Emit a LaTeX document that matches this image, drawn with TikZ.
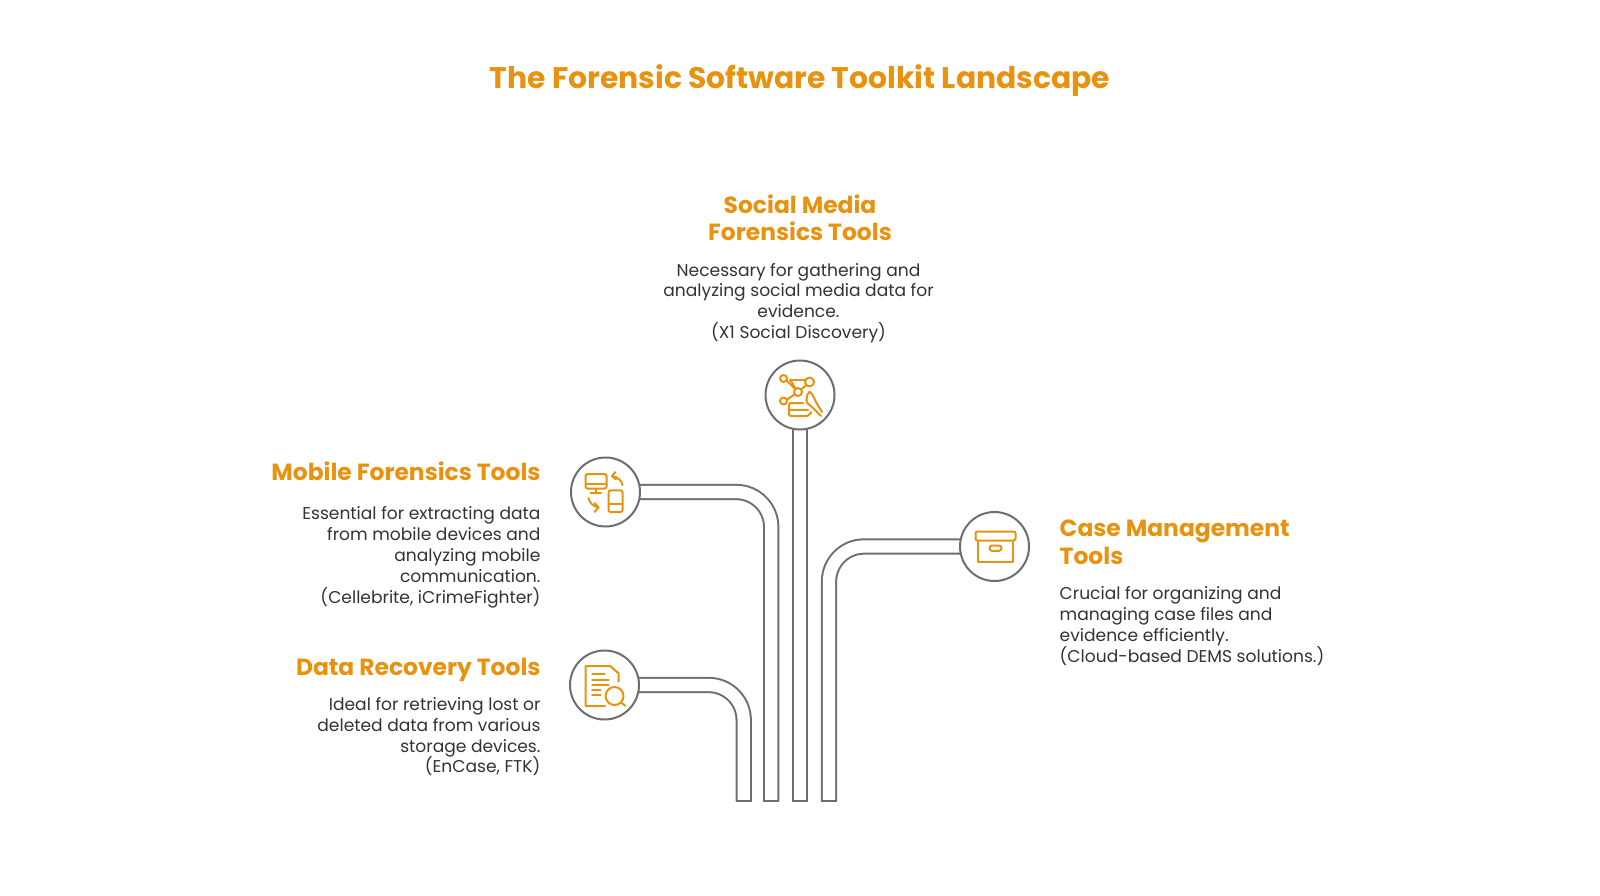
\documentclass[tikz,border=0pt]{standalone}
\usepackage{fontspec}
\setmainfont{Poppins}
\usetikzlibrary{backgrounds,positioning}
\definecolor{toolorange}{HTML}{E8920F}
\definecolor{tubegray}{HTML}{6E6E6E}
\definecolor{bodygray}{HTML}{333333}

\begin{document}
\begin{tikzpicture}[x=1pt,y=-1pt,node distance=100pt]
\tikzstyle{tool}=[circle,draw=tubegray,line width=2pt,fill=white,inner sep=0pt,minimum size=69pt]
\tikzstyle{tube}=[draw=tubegray,line width=2pt,double=white,double distance=12.3pt,rounded corners=35pt]
\tikzstyle{foot}=[draw=tubegray,line width=2pt,line cap=rect]
\tikzstyle{icon}=[draw=toolorange,line width=2pt,line cap=round,line join=round]
\tikzstyle{heading}=[inner sep=0pt,text=toolorange,font=\fontsize{23.4}{27.4}\selectfont\bfseries]
\tikzstyle{body}=[inner sep=0pt,text=bodygray,font=\fontsize{17.1}{20.8}\selectfont]

  \useasboundingbox (0,0) rectangle (1600,896);

  \node[inner sep=0pt,text=toolorange,font=\fontsize{29.8}{34}\selectfont\bfseries] (title) at (800,81) {The Forensic Software Toolkit Landscape};

  % circles
  \node[tool] (social) at (800,395)   {};
  \node[tool] (mobile) at (605.5,492) {};
  \node[tool] (data)   at (604.5,685) {};
  \node[tool] (case)   at (994.5,546.5) {};

  % texts
  \node[heading,align=center,above of=social,node distance=177pt] (socialhead) {Social Media\\Forensics Tools};
  \node[body,align=center,above of=social,node distance=92pt,xshift=-1.5pt] (socialbody) {Necessary for gathering and\\analyzing social media data for\\evidence.\\(X1 Social Discovery)};

  \node[heading,anchor=east] (mobilehead) at (540.7,471) {Mobile Forensics Tools};
  \node[body,align=right,below=26pt of mobilehead.south east,anchor=north east] (mobilebody) {Essential for extracting data\\from mobile devices and\\analyzing mobile\\communication.\\(Cellebrite, iCrimeFighter)};

  \node[heading,anchor=east] (datahead) at (540.7,669.5) {Data Recovery Tools};
  \node[body,align=right,below=15.7pt of datahead.south east,anchor=north east] (databody) {Ideal for retrieving lost or\\deleted data from various\\storage devices.\\(EnCase, FTK)};

  \node[heading,align=left,anchor=north west] (casehead) at (1059.5,520) {Case Management\\Tools};
  \node[body,align=left,below=22pt of casehead.south west,anchor=north west] (casebody) {Crucial for organizing and\\managing case files and\\evidence efficiently.\\(Cloud-based DEMS solutions.)};

  % foot ends of the tubes
  \coordinate (footdata)   at (743.7,801);
  \coordinate (footmobile) at (771.2,801);
  \coordinate (footsocial) at (800,801);
  \coordinate (footcase)   at (829,801);

  \begin{scope}[on background layer]
    \path[tube] (data.center) -| (footdata);
    \path[tube] (mobile.center) -| (footmobile);
    \path[tube] (social.center) -- (footsocial);
    \path[tube] (case.center) -| (footcase);
    \foreach \f in {footdata,footmobile,footsocial,footcase}
      \draw[foot] ([xshift=-7.15pt]\f) -- ([xshift=7.15pt]\f);
  \end{scope}

  % icon social
  \begin{scope}[shift={(social.center)},icon]
    \draw (-16.5,-16.5) circle (3.5);
    \draw (9.5,-13) circle (4.5);
    \draw (-2,-3) circle (4);
    \draw (-16.5,6) circle (3.5);
    \draw (-13.5,-14.5) -- (-5,-6);
    \draw (-13,4.5) -- (-5.5,-0.5);
    \draw (-10,-15.5) -- (5,-15.5);
    \draw (-10,-15.5) -- (-4.5,-6.5);
    \draw (6,-9.5) -- (1,-5.5);
    \draw[rounded corners=2pt] (3,8) -- (-11,8) -- (-11,21) -- (9,21) -- (11,17);
    \draw (-11,15) -- (8,15);
    \draw[rounded corners=2pt] (16.5,8) -- (11,-3) -- (8,-3) -- (6,7) -- (12,12) -- (21,21);
    \draw (16.5,8) -- (22,17);
  \end{scope}

  % icon mobile
  \begin{scope}[shift={(mobile.center)},icon]
    \draw[rounded corners=2pt] (-20,-18) rectangle (1,-3.5);
    \draw (-20,-8) -- (1,-8);
    \draw (-9.5,-3.5) -- (-9.5,0.7);
    \draw (-15,0.7) -- (-4.5,0.7);
    \draw[rounded corners=2pt] (3,-1.7) rectangle (17,20);
    \draw (3,11.7) -- (17,11.7);
    \draw (17,-7) .. controls (16,-12) and (12,-15) .. (6.5,-16);
    \draw (10,-20) -- (6.5,-16) -- (10.5,-12.5);
    \draw (-17,6) .. controls (-16,11) and (-12,14.5) .. (-7,15.5);
    \draw (-11,11) -- (-7,15.5) -- (-11,20);
  \end{scope}

  % icon data
  \begin{scope}[shift={(data.center)},icon]
    \draw (0.7,21) -- (-19,21) -- (-19,-19) -- (5.7,-19) -- (14,-11.7) -- (14,-3.3);
    \draw (-12.5,-10.7) -- (0,-10.7);
    \draw (-12.5,-5) -- (4,-5);
    \draw (-12.5,0) -- (4,0);
    \draw (-12.5,5) -- (-4,5);
    \draw (-12.5,10) -- (-4,10);
    \draw (10,11) circle (9);
    \draw (16.3,17.3) -- (20.7,20.7);
  \end{scope}

  % icon case
  \begin{scope}[shift={(case.center)},icon]
    \draw[rounded corners=2pt] (-19,-15) rectangle (21,-6);
    \draw (-16.3,-6) -- (-16.3,15.7) -- (18.3,15.7) -- (18.3,-6);
    \draw[rounded corners=2.5pt] (-5,-1) rectangle (7,4.3);
  \end{scope}
\end{tikzpicture}
\end{document}
